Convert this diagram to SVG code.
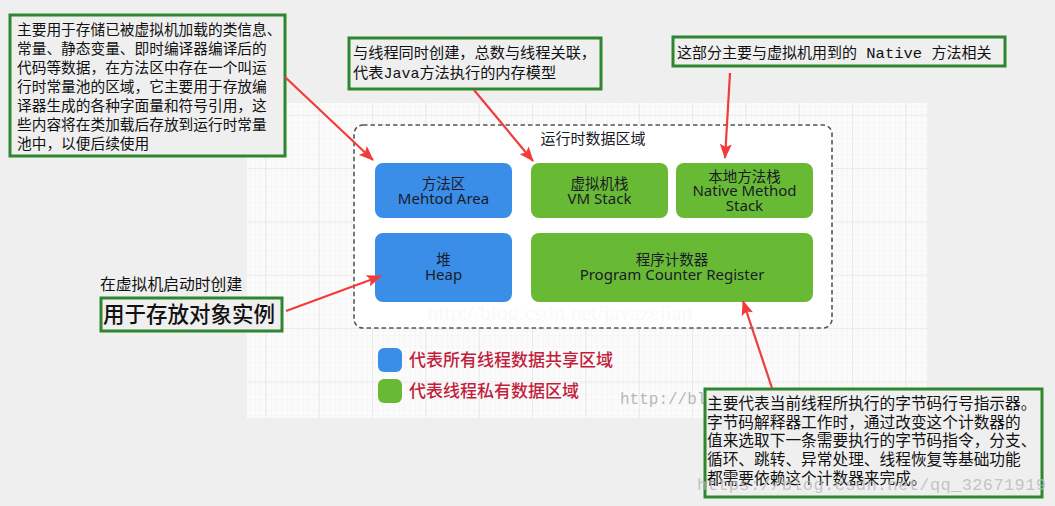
<svg xmlns="http://www.w3.org/2000/svg" width="1055" height="506" viewBox="0 0 1055 506">
<defs>
<pattern id="minor" patternUnits="userSpaceOnUse" x="0" y="0" width="5.333" height="5.333">
<path d="M5.333 0V5.333M0 5.333H5.333" fill="none" stroke="#ececec" stroke-width="0.6"/>
</pattern>
<pattern id="major" patternUnits="userSpaceOnUse" x="798.67" y="8" width="53.333" height="53.333">
<path d="M0 0V53.333M0 0H53.333" fill="none" stroke="#dcdcdc" stroke-width="1"/>
</pattern>
<marker id="ah" markerUnits="userSpaceOnUse" markerWidth="16" markerHeight="12" refX="14" refY="6" orient="auto">
<path d="M0 0L15 6L0 12L3 6Z" fill="#f23c3c"/>
</marker>
</defs>
<style>
.cn{font-family:"Noto Sans CJK SC","Noto Sans",sans-serif;}
.mono{font-family:"Liberation Mono",monospace;}
.note{fill:#efefef;stroke:#2e862f;stroke-width:3;}
.nt{font-family:"Noto Sans CJK SC","Noto Sans",sans-serif;fill:#111;}
.node-t{font-family:"Noto Sans","Noto Sans CJK SC",sans-serif;font-size:15px;fill:#1a1a28;text-anchor:middle;}
.node-c{font-family:"Noto Sans CJK SC",sans-serif;font-size:14.5px;fill:#1a1a28;text-anchor:middle;}
.blue{fill:#3a8ee8;}
.green{fill:#68ba35;}
.arrow{stroke:#f23c3c;stroke-width:2.2;fill:none;marker-end:url(#ah);}
.leg{font-family:"Noto Sans CJK SC",sans-serif;font-size:17px;fill:#c21e3c;font-weight:500;}
.wm{font-family:"Liberation Mono",monospace;fill:#b8b8b8;}
</style>
<rect x="0" y="0" width="1055" height="506" fill="#efefef"/>
<g id="grid">
<rect x="247" y="103" width="680" height="315" fill="#fbfbfb"/>
<rect x="247" y="103" width="680" height="315" fill="url(#minor)"/>
<rect x="247" y="103" width="680" height="315" fill="url(#major)"/>
</g>
<g id="runtime-area">
<rect x="354" y="125" width="478" height="203" rx="9" fill="#ffffff" stroke="#555" stroke-width="1.6" stroke-dasharray="4.5 3"/>
<text class="cn" x="593" y="144" font-size="15" fill="#1a1a28" text-anchor="middle">运行时数据区域</text>
<text x="560" y="320" font-family="Liberation Serif,serif" font-size="22" fill="#f9f9f9" text-anchor="middle">http://blog.csdn.net/javazejian</text>
</g>
<g id="method-area">
<rect class="blue" x="375" y="163" width="137" height="55" rx="8"/>
<text class="node-c" x="443.5" y="189">方法区</text>
<text class="node-t" x="443.5" y="204">Mehtod Area</text>
</g>
<g id="vm-stack">
<rect class="green" x="531" y="163" width="137" height="55" rx="8"/>
<text class="node-c" x="599.5" y="189">虚拟机栈</text>
<text class="node-t" x="599.5" y="204">VM Stack</text>
</g>
<g id="native-stack">
<rect class="green" x="676" y="163" width="137" height="55" rx="8"/>
<text class="node-c" x="744.5" y="181.5">本地方法栈</text>
<text class="node-t" x="744.5" y="196">Native Method</text>
<text class="node-t" x="744.5" y="211">Stack</text>
</g>
<g id="heap">
<rect class="blue" x="375" y="233" width="137" height="69" rx="8"/>
<text class="node-c" x="443.5" y="265">堆</text>
<text class="node-t" x="443.5" y="280">Heap</text>
</g>
<g id="pc-register">
<rect class="green" x="531" y="233" width="282" height="69" rx="8"/>
<text class="node-c" x="672" y="265">程序计数器</text>
<text class="node-t" x="672" y="280">Program Counter Register</text>
</g>
<g id="legend">
<rect class="blue" x="378" y="348" width="24" height="24" rx="6"/>
<text class="leg" x="409" y="366">代表所有线程数据共享区域</text>
<rect class="green" x="378" y="379" width="24" height="24" rx="6"/>
<text class="leg" x="409" y="397">代表线程私有数据区域</text>
</g>
<text class="wm" x="620" y="404" font-size="16" fill="#d4d4d4">http://bl</text>
<g id="note-method">
<rect class="note" x="10" y="15" width="275" height="141"/>
<text class="nt" font-size="14.7">
<tspan x="17" y="34.5">主要用于存储已被虚拟机加载的类信息、</tspan>
<tspan x="17" y="53.7">常量、静态变量、即时编译器编译后的</tspan>
<tspan x="17" y="72.8">代码等数据，在方法区中存在一个叫运</tspan>
<tspan x="17" y="92">行时常量池的区域，它主要用于存放编</tspan>
<tspan x="17" y="111">译器生成的各种字面量和符号引用，这</tspan>
<tspan x="17" y="130">些内容将在类加载后存放到运行时常量</tspan>
<tspan x="17" y="149">池中，以便后续使用</tspan>
</text>
</g>
<g id="note-vmstack">
<rect class="note" x="349" y="38" width="252" height="51"/>
<text class="nt" font-size="15.2"><tspan x="353" y="57.5">与线程同时创建，总数与线程关联，</tspan></text>
<text class="nt" font-size="15.2" x="353" y="77.5">代表<tspan class="mono" font-size="15">Java</tspan>方法执行的内存模型</text>
</g>
<g id="note-native">
<rect class="note" x="673" y="37" width="332" height="29"/>
<text class="nt" font-size="15" x="677" y="57.5">这部分主要与虚拟机用到的<tspan class="mono" font-size="15.5"> Native </tspan>方法相关</text>
</g>
<g id="note-heap">
<text class="nt" font-size="15.8" x="100" y="290">在虚拟机启动时创建</text>
<rect class="note" x="101" y="298" width="181" height="33"/>
<text class="nt" font-size="21.5" font-weight="500" x="103" y="321.5">用于存放对象实例</text>
</g>
<g id="note-pc">
<rect class="note" x="705" y="389" width="337" height="108"/>
<text class="nt" font-size="15.7">
<tspan x="707" y="409">主要代表当前线程所执行的字节码行号指示器。</tspan>
<tspan x="707" y="427.5">字节码解释器工作时，通过改变这个计数器的</tspan>
<tspan x="707" y="446">值来选取下一条需要执行的字节码指令，分支、</tspan>
<tspan x="707" y="465">循环、跳转、异常处理、线程恢复等基础功能</tspan>
<tspan x="707" y="484">都需要依赖这个计数器来完成。</tspan>
</text>
</g>
<g id="connectors">
<line class="arrow" x1="285" y1="77" x2="373" y2="160"/>
<line class="arrow" x1="474" y1="90" x2="533" y2="161"/>
<line class="arrow" x1="730" y1="73" x2="725" y2="158"/>
<line class="arrow" x1="286" y1="311" x2="381" y2="276"/>
<line class="arrow" x1="772" y1="388" x2="743" y2="301"/>
</g>
<text class="wm" x="697" y="490" font-size="17" fill="#bdbdbd" fill-opacity="0.8" textLength="349">https://blog.csdn.net/qq_32671919</text>
</svg>
